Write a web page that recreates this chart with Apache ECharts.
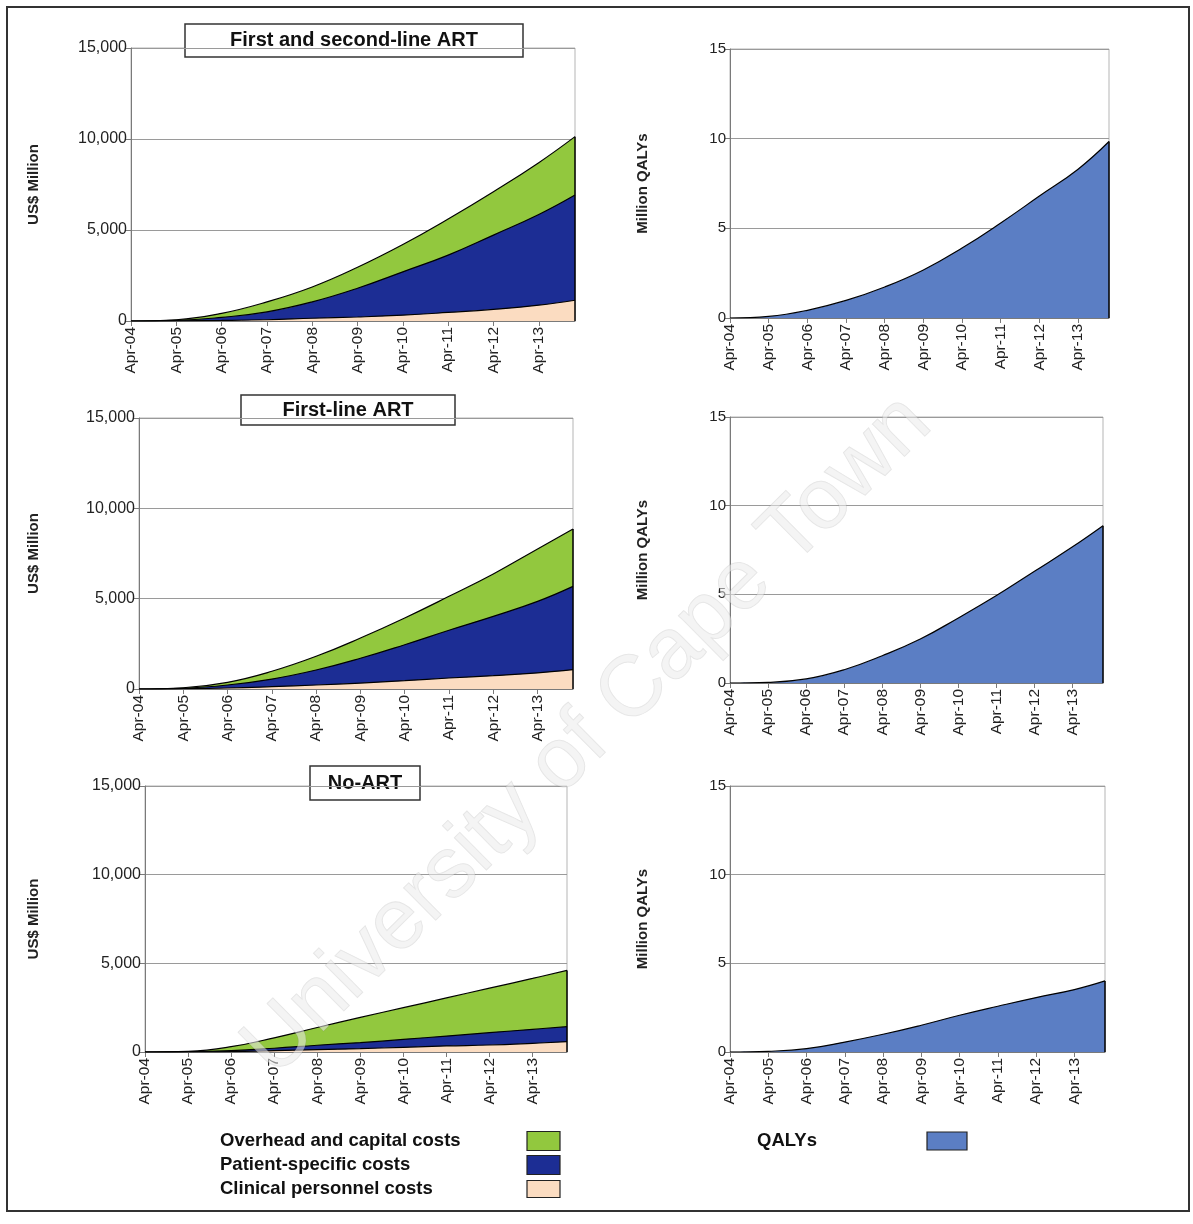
<!DOCTYPE html>
<html>
<head>
<meta charset="utf-8">
<script src="https://cdn.jsdelivr.net/npm/echarts@6/dist/echarts.min.js"></script>
<style>
html, body { margin: 0; padding: 0; background: #fff; }
#chart { width: 1193px; height: 1224px; }
</style>
</head>
<body>
<div id="chart"></div>
<script>
// x = years since Apr-04, last point is the end of the projection
const years = [0, 1, 2, 3, 4, 5, 6, 7, 8, 9, 9.8];
const tickLabels = ['Apr-04', 'Apr-05', 'Apr-06', 'Apr-07', 'Apr-08', 'Apr-09', 'Apr-10', 'Apr-11', 'Apr-12', 'Apr-13'];

// First and second-line ART (US$ million)
const fsClinical = [0, 10, 30, 70, 150, 220, 320, 470, 640, 870, 1140];
const fsPatient  = [0, 20, 170, 430, 900, 1580, 2380, 3150, 4080, 4980, 5780];
const fsOverhead = [0, 40, 220, 550, 820, 1150, 1500, 1980, 2380, 2850, 3210];

// First-line ART (US$ million)
const flClinical = [0, 15, 55, 130, 220, 330, 460, 610, 740, 890, 1070];
const flPatient  = [0, 25, 165, 420, 830, 1370, 1990, 2640, 3280, 3960, 4610];
const flOverhead = [0, 30, 150, 430, 760, 1120, 1480, 1880, 2350, 2900, 3180];

// No-ART (US$ million)
const naClinical = [0, 5, 20, 75, 130, 190, 265, 340, 395, 490, 580];
const naPatient  = [0, 15, 55, 135, 250, 340, 445, 560, 695, 790, 850];
const naOverhead = [0, 20, 225, 590, 1000, 1420, 1790, 2150, 2510, 2870, 3170];

// QALYs (million)
const fsQaly = [0, 0.09, 0.43, 0.98, 1.73, 2.68, 3.9, 5.3, 6.8, 8.3, 9.84];
const flQaly = [0, 0.04, 0.23, 0.75, 1.54, 2.48, 3.67, 4.93, 6.3, 7.68, 8.87];
const naQaly = [0, 0.04, 0.19, 0.56, 1.0, 1.51, 2.07, 2.58, 3.07, 3.52, 4.01];

const FONT = '"Liberation Sans", Arial, sans-serif';
const GREEN = '#92c83e', NAVY = '#1c2d94', PEACH = '#fbdcc1', QBLUE = '#5b7ec4';
const xEnd = years[years.length - 1];
const tickVals = tickLabels.map((t, i) => i);

const grids = [
    { left: 131, top: 48, width: 444, height: 273 },
    { left: 730, top: 49, width: 379, height: 269 },
    { left: 139, top: 418, width: 434, height: 271 },
    { left: 730, top: 417, width: 373, height: 266 },
    { left: 145, top: 786, width: 422, height: 266 },
    { left: 730, top: 786, width: 375, height: 266 },
];

const xAxes = [], yAxes = [], series = [];

// running totals so each band sits on the ones below it
function addUp(...arrs) {
    return years.map((x, k) => arrs.reduce((s, a) => s + a[k], 0));
}

function axes(i, isCost, nameGap) {
    xAxes.push({
        type: 'value', gridIndex: i, min: 0, max: xEnd, interval: 1,
        axisLine: { lineStyle: { color: '#7a7a7a', width: 1 } },
        axisTick: { customValues: tickVals, length: 5, lineStyle: { color: '#7a7a7a' } },
        axisLabel: {
            customValues: tickVals, rotate: 90, margin: 6,
            formatter: v => tickLabels[Math.round(v)] || '',
            fontSize: 15.5, color: '#222', fontFamily: FONT
        },
        splitLine: { show: false }
    });
    yAxes.push({
        type: 'value', gridIndex: i, min: 0,
        max: isCost ? 15000 : 15, interval: isCost ? 5000 : 5,
        name: isCost ? 'US$ Million' : 'Million QALYs',
        nameLocation: 'middle', nameGap: nameGap, nameRotate: 90,
        nameTextStyle: { fontSize: 15, fontWeight: 'bold', color: '#222', fontFamily: FONT },
        axisLine: { show: true, lineStyle: { color: '#7a7a7a', width: 1 } },
        axisTick: { show: true, length: 5, lineStyle: { color: '#7a7a7a' } },
        axisLabel: {
            margin: 4, fontSize: isCost ? 16 : 15, color: '#222', fontFamily: FONT,
            formatter: v => v.toLocaleString('en-US')
        },
        splitLine: { lineStyle: { color: '#9a9a9a', width: 1 } }
    });
}

function areaSeries(i, name, data, color, endLine) {
    const s = {
        name: name, type: 'line', xAxisIndex: i, yAxisIndex: i,
        smooth: 0.45, symbol: 'none',
        lineStyle: { color: '#000', width: 1.2 },
        areaStyle: { color: color, opacity: 1, origin: 'start' },
        data: years.map((x, k) => [x, data[k]])
    };
    if (endLine != null) {
        s.markLine = {
            silent: true, symbol: 'none', label: { show: false },
            lineStyle: { color: '#000', width: 1.5, type: 'solid' },
            data: [[{ coord: [xEnd, 0] }, { coord: [xEnd, endLine] }]]
        };
    }
    series.push(s);
}

function costPanel(i, clinical, patient, overhead, nameGap) {
    axes(i, true, nameGap);
    const top = addUp(clinical, patient, overhead);
    const mid = addUp(clinical, patient);
    // drawn back to front: total, then the lower bands over it
    areaSeries(i, 'Overhead and capital costs', top, GREEN, top[top.length - 1]);
    areaSeries(i, 'Patient-specific costs', mid, NAVY);
    areaSeries(i, 'Clinical personnel costs', clinical, PEACH);
}

function qalyPanel(i, qaly) {
    axes(i, false, 80);
    areaSeries(i, 'QALYs', qaly, QBLUE, qaly[qaly.length - 1]);
}

costPanel(0, fsClinical, fsPatient, fsOverhead, 90);
qalyPanel(1, fsQaly);
costPanel(2, flClinical, flPatient, flOverhead, 98);
qalyPanel(3, flQaly);
costPanel(4, naClinical, naPatient, naOverhead, 104);
qalyPanel(5, naQaly);

function titleBox(x, y, w, h, text) {
    return {
        type: 'group', z: 50,
        children: [
            { type: 'rect', shape: { x: x, y: y, width: w, height: h },
              style: { fill: '#fff', stroke: '#333', lineWidth: 1.5 } },
            { type: 'text', x: x + w / 2, y: y + h / 2,
              style: { text: text, fontSize: 20, fontWeight: 'bold', fontFamily: FONT,
                       fill: '#111', align: 'center', verticalAlign: 'middle' } }
        ]
    };
}

function legendRow(tx, ty, label, sx, sw, sh, color) {
    return [
        { type: 'text', x: tx, y: ty,
          style: { text: label, fontSize: 18.5, fontWeight: 'bold', fontFamily: FONT,
                   fill: '#111', align: 'left', verticalAlign: 'middle' } },
        { type: 'rect', shape: { x: sx, y: ty - sh / 2, width: sw, height: sh },
          style: { fill: color, stroke: '#222', lineWidth: 1.2 } }
    ];
}

const graphic = [
    { type: 'rect', shape: { x: 7, y: 7, width: 1182, height: 1204 },
      style: { fill: 'none', stroke: '#333', lineWidth: 2 }, z: 1 },
    titleBox(185, 24, 338, 33, 'First and second-line ART'),
    titleBox(241, 395, 214, 30, 'First-line ART'),
    titleBox(310, 766, 110, 34, 'No-ART'),
    ...legendRow(220, 1141, 'Overhead and capital costs', 527, 33, 19, GREEN),
    ...legendRow(220, 1165, 'Patient-specific costs', 527, 33, 19, NAVY),
    ...legendRow(220, 1189, 'Clinical personnel costs', 527, 33, 17, PEACH),
    ...legendRow(757, 1141, 'QALYs', 927, 40, 18, QBLUE),
    { type: 'text', x: 588, y: 736, rotation: 0.78, z: 100, silent: true,
      style: { text: 'University of Cape Town', fontSize: 86, fontFamily: FONT,
               fill: 'rgba(235,235,235,0.55)', stroke: 'rgba(110,110,110,0.18)', lineWidth: 1,
               align: 'center', verticalAlign: 'middle' } }
];

const chart = echarts.init(document.getElementById('chart'));
chart.setOption({
    animation: false,
    backgroundColor: '#fff',
    grid: grids.map(g => Object.assign({ show: true, borderColor: '#b5b5b5', borderWidth: 1,
                                         backgroundColor: 'transparent' }, g)),
    xAxis: xAxes,
    yAxis: yAxes,
    series: series,
    graphic: graphic
});
</script>
</body>
</html>
